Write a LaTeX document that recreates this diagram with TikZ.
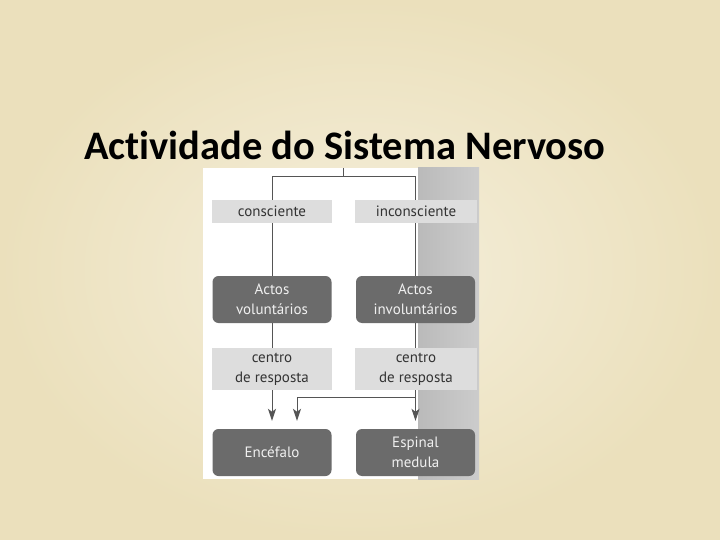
\documentclass[tikz,border=0pt]{standalone}
\usepackage{fontspec}
\setmainfont{PT Sans}
\newfontfamily\titlefont[Ligatures=NoCommon]{Carlito}
\usetikzlibrary{arrows.meta}

\definecolor{bgin}{HTML}{F5EFDC}
\definecolor{bgout}{HTML}{EBE0BC}
\definecolor{boxlight}{HTML}{DDDDDD}
\definecolor{boxdark}{HTML}{6B6B6B}
\definecolor{linegray}{HTML}{555555}

\tikzset{
  lightbox/.style={fill=boxlight, text=black!80, minimum width=120pt,
    align=center, inner sep=0pt, font=\fontsize{15}{20}\selectfont},
  darkbox/.style={fill=boxdark, text=white!94!black, rounded corners=6pt,
    minimum width=119pt, minimum height=47pt, align=center, inner sep=0pt,
    font=\fontsize{15}{20}\selectfont},
  link/.style={draw=linegray, line width=1pt},
  tip/.style={-{Stealth[length=12pt,width=8pt,inset=3pt]}, shorten >=8pt}
}

\begin{document}
\begin{tikzpicture}[x=1pt,y=-1pt]

    % パラメータ（列の位置）
    \pgfmathsetmacro{\xl}{272}
    \pgfmathsetmacro{\xr}{415.5}

    % 背景と写真の部分
    \useasboundingbox (0,0) rectangle (720,540);
    \shade[inner color=bgin, outer color=bgout] (0,0) rectangle (720,540);
    \fill[white] (203,168) rectangle (418,479);
    \shade[left color=black!27, right color=black!20] (418,168) rectangle (479,479);

    % タイトル
    \node[anchor=base west, inner sep=0pt,
      font=\titlefont\bfseries\fontsize{40.5}{46}\selectfont] (title) at (84,160)
      {Actividade do Sistema Nervoso};

    % 箱を配置
    \node[lightbox, minimum height=23pt] (cons) at (\xl,211.5) {consciente};
    \node[lightbox, minimum height=23pt, minimum width=122pt] (incons) at (\xr+0.5,211.5) {inconsciente};
    \node[darkbox] (actvol) at (\xl,299.5) {Actos\\voluntários};
    \node[darkbox] (actinv) at (\xr,299.5) {Actos\\involuntários};
    \node[lightbox, minimum height=42pt] (centrol) at (\xl,369) {centro\\de resposta};
    \node[lightbox, minimum height=42pt, minimum width=122pt] (centror) at (\xr+0.5,369) {centro\\de resposta};
    \node[darkbox] (encef) at (\xl,452.5) {Encéfalo};
    \node[darkbox] (espinal) at (\xr,452.5) {Espinal\\medula};

    % 上の分岐
    \coordinate (top) at (343,168);
    \coordinate (split) at (343,177);
    \draw[link] (top) -- (split);
    \draw[link] (cons.north |- split) -- (actinv.north |- split);
    \draw[link] (cons.north |- split) -- (cons.north);
    \draw[link] (actinv.north |- split) -- (actinv.north |- incons.north);

    % 縦の線
    \draw[link] (cons.south) -- (actvol.north);
    \draw[link] (actinv.north |- incons.south) -- (actinv.north);
    \draw[link] (actvol.south) -- (centrol.north);
    \draw[link] (actinv.south) -- (actinv.south |- centror.north);

    % 矢印
    \coordinate (join) at (297,397);
    \draw[link, tip] (centrol.south) -- (encef.north);
    \draw[link, tip] (espinal.north |- centror.south) -- (espinal.north);
    \draw[link, tip] (espinal.north |- join) -| (join |- encef.north);
    %
\end{tikzpicture}
\end{document}
